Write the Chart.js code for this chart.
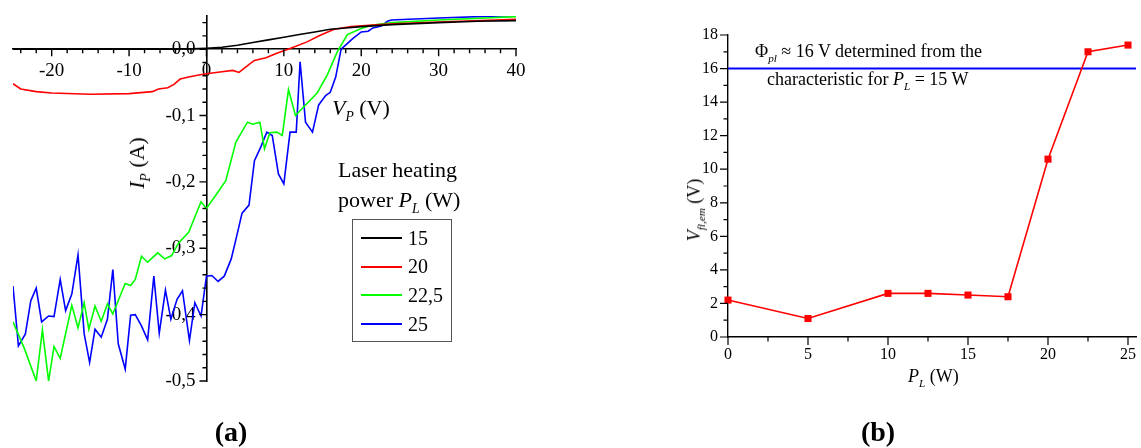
<!DOCTYPE html>
<html>
<head>
<meta charset="utf-8">
<script src="https://cdn.jsdelivr.net/npm/chart.js@4.4.1/dist/chart.umd.min.js"></script>
<style>
  body { margin: 0; width: 1141px; height: 448px; background: #fff; position: relative; overflow: hidden;
         font-family: 'Liberation Serif', 'Times New Roman', serif; color: #000; }
  canvas { position: absolute; top: 0; }
  .t { position: absolute; white-space: nowrap; line-height: 1; }
  .t sub { font-size: 0.62em; vertical-align: -0.45em; line-height: 0; font-style: italic; }
  .rot { transform: translate(-50%, -50%) rotate(-90deg); }
  .ctr { transform: translate(-50%, -50%); }
  #legA { position: absolute; left: 352px; top: 219px; width: 98px; height: 117px; border: 1px solid #555; padding-top: 4px; box-sizing: content-box; }
  #legA .row { display: flex; align-items: center; height: 28.6px; font-size: 20px; }
  #legA .sw { width: 41px; height: 2px; margin: 0 6px 0 8px; }
</style>
</head>
<body>
<canvas id="chartA" width="540" height="448" style="left:0"></canvas>
<canvas id="chartB" width="481" height="448" style="left:660px"></canvas>

<!-- panel (a) texts -->
<div class="t" style="left:332px;top:97px;font-size:22px"><i>V</i><sub>P</sub> (V)</div>
<div class="t rot" style="left:137px;top:163px;font-size:22px"><i>I</i><sub>P</sub> (A)</div>
<div class="t" style="left:338px;top:159px;font-size:22px">Laser heating</div>
<div class="t" style="left:338px;top:189px;font-size:22px">power <i>P</i><sub>L</sub> (W)</div>
<div id="legA"></div>
<div class="t ctr" style="left:231px;top:432px;font-size:28px;font-weight:bold">(a)</div>

<!-- panel (b) texts -->
<div class="t" style="left:755px;top:42px;font-size:18px">&Phi;<sub>pl</sub> &asymp; 16 V determined from the</div>
<div class="t" style="left:767px;top:70px;font-size:18px">characteristic for <i>P</i><sub>L</sub> = 15 W</div>
<div class="t" style="left:908px;top:367px;font-size:18px"><i>P</i><sub>L</sub> (W)</div>
<div class="t rot" style="left:694px;top:210px;font-size:18px"><i>V</i><sub>fl,em</sub> (V)</div>
<div class="t ctr" style="left:878px;top:432px;font-size:28px;font-weight:bold">(b)</div>

<script>
// (a) probe characteristics: probe voltage V_P (V) and current I_P (A)
const v15 = [-25, -20, -10, -5, -2, 0, 2, 4, 6, 8, 10, 12, 14, 16, 18, 20, 24, 30, 35, 40];
const i15 = [0, 0, 0, 0, 0.0005, 0.0015, 0.003, 0.006, 0.010, 0.014, 0.018, 0.022, 0.026, 0.030, 0.032, 0.034, 0.037, 0.040, 0.042, 0.043];

const v20 = [-25, -24, -22, -20, -15, -10, -7, -6.2, -5, -4.2, -3.4, -2.3, -1, 0, 2, 3.4, 4.2, 5.6, 6.2, 7.7, 9, 10.8, 13, 14.7, 16.5, 18.7, 21, 23.5, 30, 40];
const i20 = [-0.052, -0.060, -0.064, -0.066, -0.068, -0.067, -0.064, -0.060, -0.058, -0.053, -0.045, -0.042, -0.039, -0.037, -0.034, -0.032, -0.035, -0.022, -0.017, -0.013, -0.0065, 0.001, 0.011, 0.021, 0.030, 0.034, 0.036, 0.038, 0.041, 0.045];

const v225 = [-25, -23.5, -22, -21.2, -20.4, -19.7, -18.9, -17.4, -16.6, -15.8, -15.2, -14.4, -13.6, -12.8, -12.1, -10.5, -9.8, -9.2, -8.4, -7.6, -6.3, -5.4, -4.5, -3.6, -2.3, -0.7, 0, 1.2, 2.5, 3.8, 5.3, 6.0, 6.9, 7.5, 8.2, 9.1, 9.8, 10.6, 11.5, 14.3, 15.6, 16.9, 18.2, 20, 21.3, 24, 30, 40];
const i225 = [-0.411, -0.452, -0.500, -0.423, -0.500, -0.448, -0.466, -0.386, -0.420, -0.382, -0.422, -0.387, -0.410, -0.384, -0.399, -0.353, -0.356, -0.347, -0.312, -0.321, -0.307, -0.316, -0.311, -0.292, -0.276, -0.230, -0.240, -0.220, -0.198, -0.140, -0.110, -0.113, -0.110, -0.150, -0.126, -0.125, -0.130, -0.061, -0.100, -0.066, -0.039, -0.004, 0.022, 0.031, 0.036, 0.040, 0.044, 0.049];

const v25 = [-25, -24.3, -23.4, -22.7, -22, -21.3, -20.4, -19.7, -18.9, -18.2, -17.4, -16.6, -15.8, -15.1, -14.4, -13.6, -12.8, -12.1, -11.4, -10.5, -9.8, -9.2, -8.4, -7.6, -6.8, -6.1, -5.3, -4.6, -3.8, -3.1, -2.2, -1.5, -0.7, 0, 0.7, 1.5, 2.3, 3.2, 3.8, 4.6, 5.5, 6.2, 7.0, 7.8, 8.5, 9.3, 10.0, 10.8, 11.6, 12.1, 12.8, 13.7, 14.5, 15.4, 16.0, 16.7, 17.4, 18.9, 20, 20.9, 21.5, 22.6, 23.4, 23.9, 30, 40];
const i25 = [-0.357, -0.447, -0.429, -0.379, -0.360, -0.411, -0.402, -0.403, -0.347, -0.394, -0.369, -0.310, -0.429, -0.472, -0.422, -0.434, -0.407, -0.332, -0.444, -0.482, -0.401, -0.400, -0.417, -0.438, -0.342, -0.428, -0.363, -0.407, -0.377, -0.364, -0.439, -0.382, -0.402, -0.342, -0.341, -0.350, -0.342, -0.316, -0.287, -0.247, -0.235, -0.168, -0.148, -0.125, -0.130, -0.188, -0.203, -0.125, -0.125, -0.019, -0.110, -0.125, -0.084, -0.070, -0.065, -0.042, 0, 0.016, 0.026, 0.027, 0.032, 0.035, 0.042, 0.044, 0.047, 0.051];

const powerLabels = ['15', '20', '22,5', '25'];
const lineColors = ['#000000', '#ff0000', '#00ff00', '#0000ff'];
const xTicksA = [-20, -10, 0, 10, 20, 30, 40];
const yTicksA = [0, -0.1, -0.2, -0.3, -0.4, -0.5];

// (b) floating potential of the emissive probe versus laser heating power
const powerB = [0, 5, 10, 12.5, 15, 17.5, 20, 22.5, 25];
const vFloat = [2.2, 1.1, 2.6, 2.6, 2.5, 2.4, 10.6, 17.0, 17.4];
const phiPl = 16;
const xTicksB = [0, 5, 10, 15, 20, 25];
const yTicksB = [0, 2, 4, 6, 8, 10, 12, 14, 16, 18];

const serif = "'Liberation Serif', 'Times New Roman', serif";

// draws major + minor tick marks on both axes (Chart.js has no minor ticks)
const tickMarks = {
  id: 'tickMarks',
  afterDraw(chart, args, o) {
    const ctx = chart.ctx, x = chart.scales.x, y = chart.scales.y;
    const x0 = x.getPixelForValue(o.crossX), y0 = y.getPixelForValue(o.crossY);
    ctx.save();
    ctx.strokeStyle = '#000';
    ctx.lineWidth = o.width;
    ctx.beginPath();
    for (let k = 0; ; k++) {
      const v = o.xFrom + k * o.xMinor;
      if (v > x.max + 1e-9) break;
      const r = v / o.xMajor, len = Math.abs(r - Math.round(r)) < 1e-6 ? o.major : o.minor;
      const p = x.getPixelForValue(v);
      ctx.moveTo(p, y0); ctx.lineTo(p, y0 + len);
    }
    for (let k = 0; ; k++) {
      const v = o.yFrom + k * o.yMinor;
      if (v > y.max + 1e-9) break;
      const r = v / o.yMajor, len = Math.abs(r - Math.round(r)) < 1e-6 ? o.major : o.minor;
      const p = y.getPixelForValue(v);
      ctx.moveTo(x0, p); ctx.lineTo(x0 - len, p);
    }
    ctx.stroke();
    ctx.restore();
  }
};

// moves the y axis of panel (a) onto x = 0 so its labels keep their padding
const yAtZero = {
  id: 'yAtZero',
  afterLayout(chart) {
    const y = chart.scales.y, p = chart.scales.x.getPixelForValue(0);
    y.left = p - 90;
    y.right = p;
    y.width = 90;
  }
};

function noPad(s) {
  s.paddingTop = 0; s.paddingBottom = 0; s.paddingLeft = 0; s.paddingRight = 0;
}

function toPoints(xs, ys) {
  return xs.map((v, k) => ({x: v, y: ys[k]}));
}

const seriesA = [[v15, i15], [v20, i20], [v225, i225], [v25, i25]];

const chartA = new Chart(document.getElementById('chartA'), {
  type: 'line',
  data: {
    datasets: seriesA.map((s, i) => ({
      label: powerLabels[i],
      data: toPoints(s[0], s[1]),
      borderColor: lineColors[i],
      borderWidth: 1.6,
      pointRadius: 0,
      fill: false
    }))
  },
  options: {
    responsive: false,
    devicePixelRatio: 1,
    animation: false,
    layout: {padding: {left: 13, right: 24, top: 16, bottom: 67}},
    plugins: {
      legend: {display: false},
      tooltip: {enabled: false},
      tickMarks: {crossX: 0, crossY: 0, xFrom: -24, xMinor: 2, xMajor: 10, yFrom: -0.5, yMinor: 0.02, yMajor: 0.1, major: 7, minor: 4, width: 1.4}
    },
    scales: {
      x: {
        type: 'linear', min: -25, max: 40, position: {y: 0},
        afterFit: s => { s.height = 0; noPad(s); },
        afterBuildTicks: s => { s.ticks = xTicksA.map(v => ({value: v})); },
        grid: {display: true, drawOnChartArea: false, drawTicks: false},
        border: {color: '#000', width: 1.6},
        ticks: {autoSkip: false, maxRotation: 0, padding: 10, color: '#000', font: {family: serif, size: 19},
                callback: v => String(v)}
      },
      y: {
        type: 'linear', min: -0.5, max: 0.05, position: 'left',
        afterFit: s => { s.width = 0; noPad(s); },
        afterBuildTicks: s => { s.ticks = yTicksA.map(v => ({value: v})); },
        grid: {display: true, drawOnChartArea: false, drawTicks: false},
        border: {color: '#000', width: 1.6},
        ticks: {autoSkip: false, padding: 11, color: '#000', font: {family: serif, size: 19},
                callback: v => v.toFixed(1).replace('.', ',')}
      }
    }
  },
  plugins: [tickMarks, yAtZero]
});

// legend box for panel (a), built from the chart's datasets
const leg = document.getElementById('legA');
chartA.data.datasets.forEach(ds => {
  const row = document.createElement('div');
  row.className = 'row';
  row.innerHTML = '<span class="sw" style="background:' + ds.borderColor + '"></span><span>' + ds.label + '</span>';
  leg.appendChild(row);
});

new Chart(document.getElementById('chartB'), {
  type: 'line',
  data: {
    datasets: [
      {
        data: toPoints(powerB, vFloat),
        borderColor: '#ff0000',
        backgroundColor: '#ff0000',
        borderWidth: 1.6,
        pointStyle: 'rect',
        pointRadius: 5,
        pointBorderWidth: 0,
        clip: false
      },
      {
        data: [{x: 0, y: phiPl}, {x: 25.5, y: phiPl}],
        borderColor: '#0000ff',
        borderWidth: 2,
        pointRadius: 0
      }
    ]
  },
  options: {
    responsive: false,
    devicePixelRatio: 1,
    animation: false,
    layout: {padding: {left: 0, right: 1, top: 35, bottom: 0}},
    plugins: {
      legend: {display: false},
      tooltip: {enabled: false},
      tickMarks: {crossX: 0, crossY: 0, xFrom: 0, xMinor: 2.5, xMajor: 5, yFrom: 0, yMinor: 1, yMajor: 2, major: 8, minor: 4.5, width: 1.2}
    },
    scales: {
      x: {
        type: 'linear', min: 0, max: 25.5, position: 'bottom',
        afterFit: s => { s.height = 111; noPad(s); },
        afterBuildTicks: s => { s.ticks = xTicksB.map(v => ({value: v})); },
        grid: {display: true, drawOnChartArea: false, drawTicks: false},
        border: {color: '#000', width: 1.4},
        ticks: {autoSkip: false, maxRotation: 0, padding: 8, color: '#000', font: {family: serif, size: 16}}
      },
      y: {
        type: 'linear', min: 0, max: 18, position: 'left',
        afterFit: s => { s.width = 68; noPad(s); },
        afterBuildTicks: s => { s.ticks = yTicksB.map(v => ({value: v})); },
        grid: {display: true, drawOnChartArea: false, drawTicks: false},
        border: {color: '#000', width: 1.4},
        ticks: {autoSkip: false, padding: 10, color: '#000', font: {family: serif, size: 16}}
      }
    }
  },
  plugins: [tickMarks]
});
</script>
</body>
</html>
